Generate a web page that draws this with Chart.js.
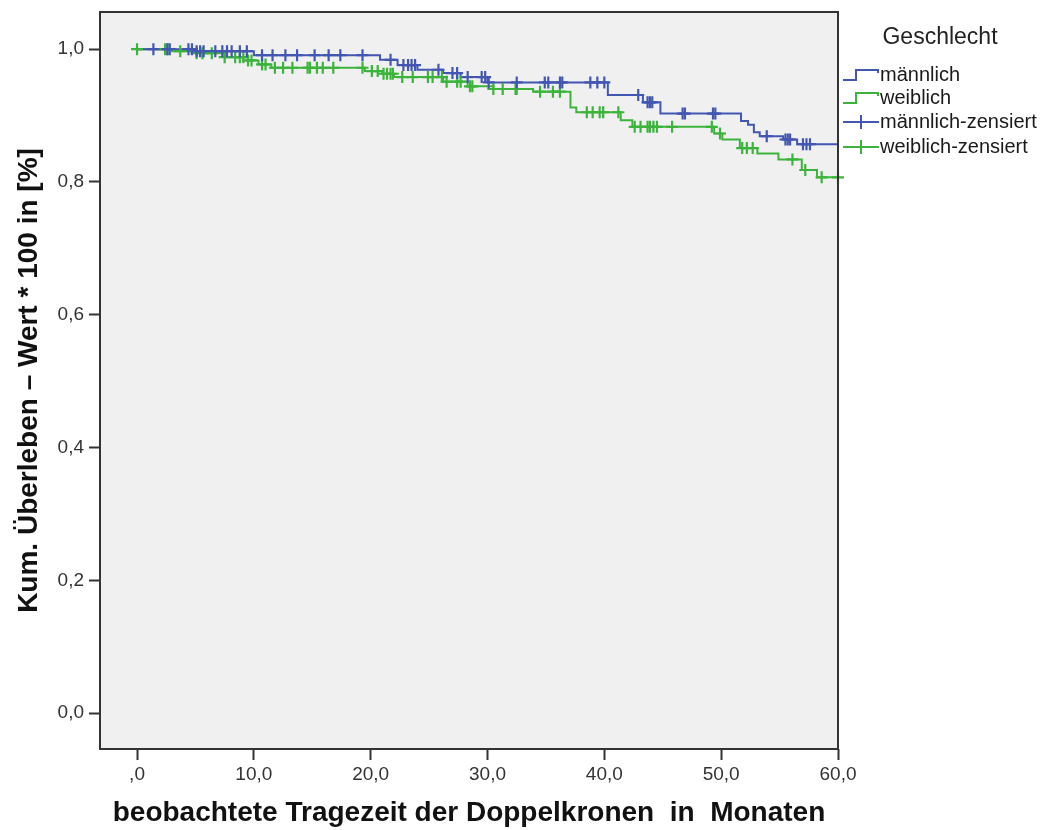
<!DOCTYPE html>
<html>
<head>
<meta charset="utf-8">
<script src="https://cdn.jsdelivr.net/npm/chart.js@4.4.1/dist/chart.umd.min.js"></script>
<style>
  html, body { margin: 0; padding: 0; background: #ffffff; }
  canvas { display: block; }
</style>
</head>
<body>
<canvas id="km" width="1042" height="830"></canvas>
<script>
// Kaplan-Meier survival of double-crown restorations, split by sex.
// Step times (months) and the cumulative survival that holds from each time on.
const maleTimes    = [0, 5, 10, 20.8, 22.3, 24, 26.2, 27.7, 30, 40.3, 43.3, 44.8, 51.7, 52.3, 52.8, 53.3, 55.3, 56.5];
const maleSurvival = [1.0, 0.997, 0.991, 0.984, 0.976, 0.969, 0.964, 0.958, 0.950, 0.931, 0.920, 0.903, 0.892, 0.886, 0.875, 0.869, 0.864, 0.857];

const femaleTimes    = [0, 3, 5, 7.5, 9.5, 10.4, 11.5, 19.5, 21.0, 22.0, 26.2, 28.3, 30.5, 33.9, 37.1, 37.6, 41.4, 42.4, 49.4, 50.1, 51.6, 53.1, 54.9, 56.9, 58.2];
const femaleSurvival = [1.0, 0.997, 0.994, 0.988, 0.983, 0.977, 0.972, 0.967, 0.963, 0.958, 0.951, 0.944, 0.940, 0.936, 0.912, 0.905, 0.893, 0.883, 0.873, 0.864, 0.851, 0.843, 0.834, 0.818, 0.807];

// Censored observations (months)
const maleCensored = [1.4, 2.6, 2.8, 4.4, 4.7, 5.1, 5.4, 5.7, 6.7, 7.3, 7.7, 8.1, 8.8, 9.4, 10.7, 11.6, 12.7, 13.7, 15.2, 16.4, 17.4, 19.3,
  21.7, 22.8, 23.2, 23.5, 23.8, 25.8, 27.0, 27.4, 28.3, 29.5, 29.8, 30.1, 32.5, 34.9, 35.2, 36.2, 36.4, 38.8, 39.4, 40.0,
  42.9, 43.7, 43.9, 44.1, 46.7, 46.9, 49.3, 49.5, 53.9, 55.5, 55.7, 55.9, 57.0, 57.3, 57.6];
const femaleCensored = [0.0, 2.4, 2.6, 3.7, 5.1, 5.6, 6.4, 7.5, 8.4, 8.8, 9.1, 9.5, 9.8, 10.7, 11.0, 11.8, 12.5, 13.3, 14.6, 14.8, 15.4, 15.9, 16.8,
  19.3, 20.1, 20.6, 21.1, 21.4, 21.7, 21.9, 22.7, 23.6, 24.9, 25.3, 26.1, 26.5, 27.4, 27.7, 28.5, 28.7, 30.5, 31.3, 32.4, 32.5,
  34.5, 35.6, 36.2, 38.5, 39.0, 39.6, 39.9, 41.2, 42.6, 43.1, 43.7, 43.9, 44.2, 44.5, 45.8, 49.2, 49.9, 51.8, 52.2, 52.7,
  56.1, 57.2, 58.6, 60.0];

const followUpEnd = 60;

const xTicks      = [0, 10, 20, 30, 40, 50, 60];
const xTickLabels = [',0', '10,0', '20,0', '30,0', '40,0', '50,0', '60,0'];
const yTicks      = [0, 0.2, 0.4, 0.6, 0.8, 1.0];
const yTickLabels = ['0,0', '0,2', '0,4', '0,6', '0,8', '1,0'];

const seriesNames = ['männlich', 'weiblich', 'männlich-zensiert', 'weiblich-zensiert'];
const legendTitle = 'Geschlecht';
const xTitle = 'beobachtete Tragezeit der Doppelkronen  in  Monaten';
const yTitle = 'Kum. Überleben – Wert * 100 in [%]';

const BLUE = '#4256b2';
const GREEN = '#3cb43c';
const FONT = '"Liberation Sans", Arial, sans-serif';

function stepPoints(times, surv, end) {
  const pts = times.map((t, i) => ({ x: t, y: surv[i] }));
  pts.push({ x: end, y: surv[surv.length - 1] });
  return pts;
}
function survivalAt(times, surv, t) {
  let v = surv[0];
  for (let i = 0; i < times.length; i++) if (times[i] <= t) v = surv[i];
  return v;
}
function censorPoints(cens, times, surv) {
  return cens.map(t => ({ x: t, y: survivalAt(times, surv, t) }));
}

// Grey plot panel with a closed frame, plus the group legend on the right
const panelPlugin = {
  id: 'panel',
  beforeDatasetsDraw(chart) {
    const { ctx, chartArea: a } = chart;
    ctx.save();
    ctx.fillStyle = '#f0f0f0';
    ctx.fillRect(a.left, a.top, a.right - a.left, a.bottom - a.top);
    ctx.restore();
  },
  afterDatasetsDraw(chart) {
    const { ctx, chartArea: a } = chart;
    ctx.save();
    ctx.strokeStyle = '#333333';
    ctx.lineWidth = 2;
    ctx.strokeRect(a.left, a.top, a.right - a.left, a.bottom - a.top);
    ctx.restore();
  },
  afterDraw(chart) {
    const { ctx } = chart;
    ctx.save();
    ctx.fillStyle = '#222222';
    ctx.textBaseline = 'middle';
    ctx.textAlign = 'center';
    ctx.font = '23px ' + FONT;
    ctx.fillText(legendTitle, 940, 38);

    const rows = [75, 98, 122, 147];
    const colors = [BLUE, GREEN, BLUE, GREEN];
    ctx.lineWidth = 2;
    rows.forEach((cy, i) => {
      ctx.strokeStyle = colors[i];
      ctx.beginPath();
      if (i < 2) {
        ctx.moveTo(843, cy + 5);
        ctx.lineTo(856, cy + 5);
        ctx.lineTo(856, cy - 5);
        ctx.lineTo(878, cy - 5);
        ctx.lineTo(878, cy - 2);
      } else {
        ctx.moveTo(843, cy);
        ctx.lineTo(879, cy);
        ctx.moveTo(861, cy - 7);
        ctx.lineTo(861, cy + 7);
      }
      ctx.stroke();
      ctx.fillStyle = '#1a1a1a';
      ctx.textAlign = 'left';
      ctx.font = '20px ' + FONT;
      ctx.fillText(seriesNames[i], 880, cy);
    });
    ctx.restore();
  }
};

const tickFont = { family: FONT, size: 19 };
const titleFont = { family: FONT, size: 28, weight: 'bold' };

new Chart(document.getElementById('km'), {
  type: 'scatter',
  data: {
    datasets: [
      {
        label: seriesNames[2],
        data: censorPoints(maleCensored, maleTimes, maleSurvival),
        showLine: false,
        pointStyle: 'cross',
        pointRadius: 6,
        pointBorderWidth: 2.2,
        borderColor: BLUE,
        backgroundColor: BLUE,
        clip: false
      },
      {
        label: seriesNames[3],
        data: censorPoints(femaleCensored, femaleTimes, femaleSurvival),
        showLine: false,
        pointStyle: 'cross',
        pointRadius: 6,
        pointBorderWidth: 2.2,
        borderColor: GREEN,
        backgroundColor: GREEN,
        clip: false
      },
      {
        label: seriesNames[0],
        data: stepPoints(maleTimes, maleSurvival, followUpEnd),
        showLine: true,
        stepped: true,
        borderColor: BLUE,
        borderWidth: 2,
        pointRadius: 0,
        fill: false
      },
      {
        label: seriesNames[1],
        data: stepPoints(femaleTimes, femaleSurvival, followUpEnd),
        showLine: true,
        stepped: true,
        borderColor: GREEN,
        borderWidth: 2,
        pointRadius: 0,
        fill: false
      }
    ]
  },
  options: {
    responsive: false,
    animation: false,
    events: [],
    layout: { padding: { top: 12, right: 204, bottom: 0, left: 0 } },
    plugins: {
      legend: { display: false },
      tooltip: { enabled: false }
    },
    scales: {
      x: {
        type: 'linear',
        min: -3.17,
        max: 60,
        afterBuildTicks: s => { s.ticks = xTicks.map(v => ({ value: v })); },
        afterFit: s => { s.height = 81; s.paddingLeft = 0; s.paddingRight = 0; },
        border: { display: false },
        grid: { display: true, drawOnChartArea: false, drawTicks: true, tickLength: 11, tickColor: '#333333', tickWidth: 2 },
        ticks: {
          autoSkip: false, maxRotation: 0, padding: 3,
          color: '#333333', font: tickFont,
          callback: (v, i) => xTickLabels[i]
        },
        title: { display: true, text: xTitle, color: '#111111', font: titleFont, padding: { top: 0, bottom: 0 } }
      },
      y: {
        type: 'linear',
        min: -0.054,
        max: 1.056,
        afterBuildTicks: s => { s.ticks = yTicks.map(v => ({ value: v })); },
        afterFit: s => { s.width = 100; s.paddingTop = 0; s.paddingBottom = 0; },
        border: { display: false },
        grid: { display: true, drawOnChartArea: false, drawTicks: true, tickLength: 11, tickColor: '#333333', tickWidth: 2 },
        ticks: {
          autoSkip: false, padding: 5,
          color: '#333333', font: tickFont,
          callback: (v, i) => yTickLabels[i]
        },
        title: { display: true, text: yTitle, color: '#111111', font: titleFont, padding: { top: 12, bottom: 0 } }
      }
    }
  },
  plugins: [panelPlugin]
});
</script>
</body>
</html>
